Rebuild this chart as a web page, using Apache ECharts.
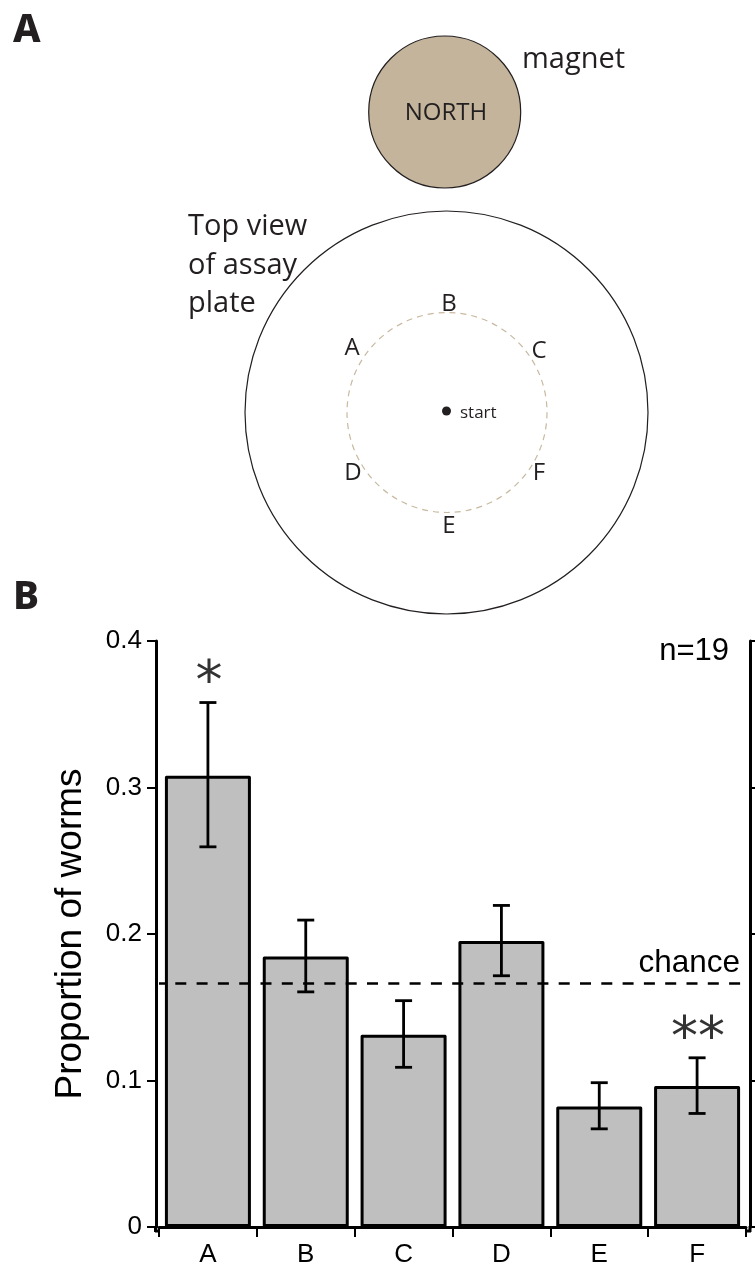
<!DOCTYPE html>
<html><head><meta charset="utf-8">
<style>html,body{margin:0;padding:0;background:#fff}#c{width:755px;height:1266px}</style>
<script src="https://cdn.jsdelivr.net/npm/echarts@6/dist/echarts.min.js"></script>
</head><body><div id="c"></div>
<script>
const categories = ['A','B','C','D','E','F'];
const proportions = [0.3080,0.1847,0.1312,0.1952,0.0822,0.0962];
const errLow = [0.2595,0.1605,0.1090,0.1715,0.0670,0.0775];
const errHigh = [0.3580,0.2095,0.1545,0.2195,0.0985,0.1155];
const yTicks = {min:0,max:0.4,interval:0.1};
const chance = 0.1667;
const sigMarks = [['A',0.3704,'*'],['F',0.1276,'**']];
const plateLabels = [['A',352,348],['B',449,304],['C',539,351],['D',353,473],['E',449,526],['F',539,473]];

const AF='Arial, "Liberation Sans", sans-serif', MF='"Open Sans", sans-serif', INK='#231f20';
const chart = echarts.init(document.getElementById('c'),null,{renderer:'canvas'});
const txt=(x,y,text,size,extra={})=>({type:'text',x,y,silent:true,style:Object.assign({text,fontSize:size,fontFamily:MF,fill:INK,align:'left',verticalAlign:'middle'},extra)});
const ln=(x1,y1,x2,y2)=>({type:'line',silent:true,shape:{x1,y1,x2,y2},style:{stroke:'#000',lineWidth:3,lineCap:'butt'}});
chart.setOption({
  animation:false,
  grid:{left:159,right:9,top:641,bottom:39,containLabel:false,outerBoundsMode:'none'},
  xAxis:{type:'category',data:categories,offset:4,
    axisLine:{lineStyle:{color:'#000',width:3}},
    axisTick:{show:true,alignWithLabel:false,length:10,lineStyle:{color:'#000',width:2}},
    axisLabel:{color:'#000',fontFamily:AF,fontSize:26,margin:11},splitLine:{show:false}},
  yAxis:[
   {type:'value',min:yTicks.min,max:yTicks.max,interval:yTicks.interval,offset:3,position:'left',
    name:'Proportion of worms',nameLocation:'middle',nameGap:67,nameRotate:90,
    nameTextStyle:{color:'#000',fontFamily:AF,fontSize:37},
    axisLine:{show:true,onZero:false,lineStyle:{color:'#000',width:3}},
    axisTick:{show:true,length:9,lineStyle:{color:'#000',width:2}},
    axisLabel:{color:'#000',fontFamily:AF,fontSize:26,margin:14},splitLine:{show:false}},
   {type:'value',min:yTicks.min,max:yTicks.max,interval:yTicks.interval,offset:4,position:'right',
    axisLine:{show:true,onZero:false,lineStyle:{color:'#000',width:3}},
    axisTick:{show:true,length:6,lineStyle:{color:'#000',width:2}},
    axisLabel:{show:false},splitLine:{show:false}}
  ],
  series:[
   {type:'bar',data:proportions,barWidth:86,itemStyle:{color:'#bfbfbf',borderColor:'#000',borderWidth:3,borderJoin:'round'},
    markLine:{silent:true,symbol:'none',precision:4,label:{show:false},data:[{yAxis:chance}],
      lineStyle:{color:'#000',width:2.5,type:[11,10.3],dashOffset:5}},z:2},
   {type:'custom',z:5,data:categories.map((c,i)=>[i,errLow[i],errHigh[i]]),
    renderItem(p,api){
      const x=api.coord([api.value(0),0])[0], lo=api.coord([api.value(0),api.value(1)])[1], hi=api.coord([api.value(0),api.value(2)])[1], w=8.5;
      const s={stroke:'#000',lineWidth:2.8,fill:null};
      return {type:'group',children:[
        {type:'line',shape:{x1:x,y1:lo,x2:x,y2:hi},style:s},
        {type:'line',shape:{x1:x-w,y1:lo,x2:x+w,y2:lo},style:s},
        {type:'line',shape:{x1:x-w,y1:hi,x2:x+w,y2:hi},style:s}]};
    }},
   {type:'custom',z:6,clip:false,data:sigMarks,encode:{x:0,y:1},
    renderItem(p,api){
      const pt=api.coord([sigMarks[p.dataIndex][0],sigMarks[p.dataIndex][1]]);
      return {type:'text',x:pt[0]+1,y:pt[1],style:{text:sigMarks[p.dataIndex][2],fontFamily:'"DejaVu Sans"',fontSize:54,fill:'#333',align:'center',verticalAlign:'middle'}};
    }}
  ],
  graphic:{elements:[
    ln(155.5,1226,155.5,1232), ln(155,1231,159,1231), ln(746,1231,751,1231), ln(750,1226,750,1232),
    {type:'circle',silent:true,shape:{cx:444.7,cy:112,r:76},style:{fill:'#c4b49b',stroke:INK,lineWidth:1.2}},
    {type:'circle',silent:true,shape:{cx:446.5,cy:412.5,r:201.5},style:{fill:'none',stroke:INK,lineWidth:1.2}},
    {type:'circle',silent:true,shape:{cx:447,cy:412.5,r:100},style:{fill:'none',stroke:'#c8b9a0',lineWidth:1.2,lineDash:[6,5]}},
    {type:'circle',silent:true,shape:{cx:446.5,cy:411,r:4.5},style:{fill:INK}},
    txt(13,31,'A',39,{fontFamily:'"Noto Sans"',fontWeight:800}),
    txt(13,598,'B',39,{fontFamily:'"Noto Sans"',fontWeight:800}),
    txt(446,113,'NORTH',24,{align:'center'}),
    txt(522,60,'magnet',29),
    txt(188,227,'Top view',29),
    txt(188,266,'of assay',29),
    txt(188,304,'plate',29),
    txt(460,413,'start',17),
    ...plateLabels.map(l=>txt(l[1],l[2],l[0],24,{align:'center'})),
    txt(729,651,'n=19',31,{fontFamily:AF,fill:'#000',align:'right'}),
    txt(740,963,'chance',31.5,{fontFamily:AF,fill:'#000',align:'right'})
  ]}
});
</script></body></html>
